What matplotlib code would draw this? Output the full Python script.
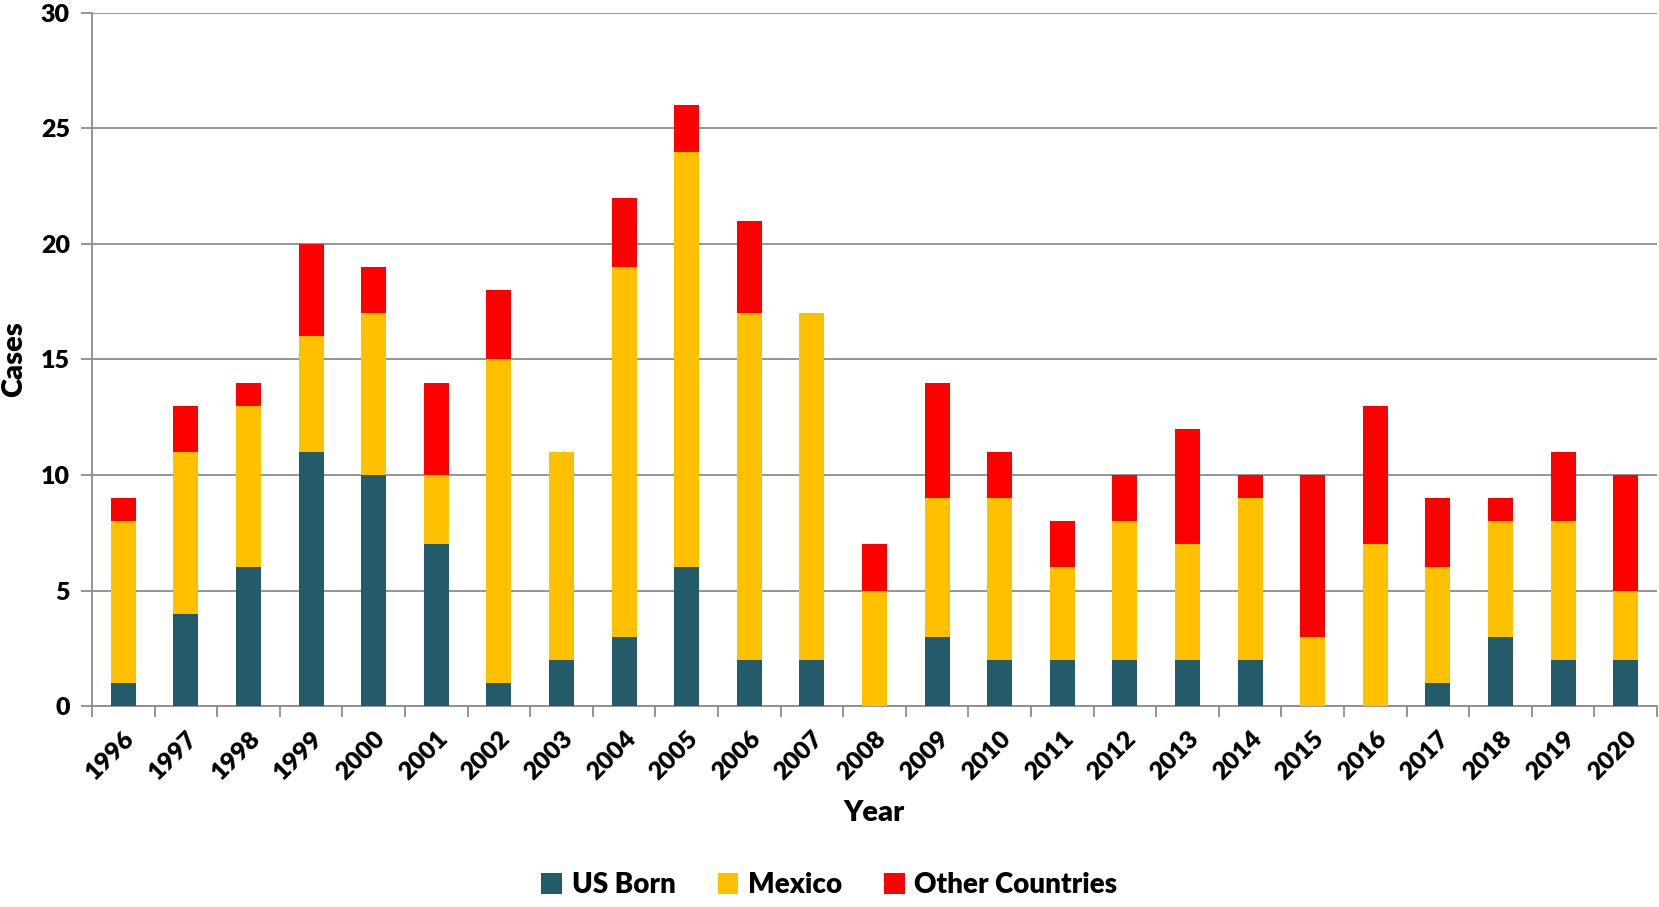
import matplotlib.pyplot as plt
import numpy as np

plt.rcParams['font.family'] = ['Lato', 'DejaVu Sans']

years = [str(y) for y in range(1996, 2021)]
us_born = [1, 4, 6, 11, 10, 7, 1, 2, 3, 6, 2, 2, 0, 3, 2, 2, 2, 2, 2, 0, 0, 1, 3, 2, 2]
mexico = [7, 7, 7, 5, 7, 3, 14, 9, 16, 18, 15, 15, 5, 6, 7, 4, 6, 5, 7, 3, 7, 5, 5, 6, 3]
other = [1, 2, 1, 4, 2, 4, 3, 0, 3, 2, 4, 0, 2, 5, 2, 2, 2, 5, 1, 7, 6, 3, 1, 3, 5]

colors = ['#235B6A', '#FFC000', '#FF0000']
labels = ['US Born', 'Mexico', 'Other Countries']

fig = plt.figure(figsize=(16.59, 9.07), dpi=100)
ax = fig.add_axes([0.0555, 0.2216, 0.9433, 0.7641])

x = np.arange(len(years))
us = np.array(us_born)
mx = np.array(mexico)
ot = np.array(other)
w = 0.4
ax.bar(x, us, w, color=colors[0], label=labels[0], zorder=3)
ax.bar(x, mx, w, bottom=us, color=colors[1], label=labels[1], zorder=3)
ax.bar(x, ot, w, bottom=us + mx, color=colors[2], label=labels[2], zorder=3)

ax.set_xlim(-0.5, len(years) - 0.5)
ax.set_ylim(0, 30)
ax.set_yticks(range(0, 31, 5))
ax.yaxis.grid(True, color='#8c8c8c', linewidth=1.3, zorder=0)
ax.tick_params(axis='y', length=8, color='#8c8c8c', width=1.3, labelsize=18, pad=8)

ax.set_xticks(x)
ax.set_xticklabels(years, rotation=45, ha='right', rotation_mode='anchor', fontsize=18, fontweight='heavy')
ax.tick_params(axis='x', length=0, pad=15)
ax.set_xticks(np.arange(-0.5, len(years)), minor=True)
ax.tick_params(axis='x', which='minor', length=8, color='#8c8c8c', width=1.3)
for t in ax.get_yticklabels():
    t.set_fontweight('heavy')

for s in ['top', 'right']:
    ax.spines[s].set_visible(False)
for s in ['left', 'bottom']:
    ax.spines[s].set_color('#8c8c8c')
    ax.spines[s].set_linewidth(1.3)

ax.set_xlabel('Year', fontsize=21, fontweight='heavy', labelpad=12)
ax.set_ylabel('Cases', fontsize=21, fontweight='heavy', labelpad=10)

fig.legend(loc='lower center', bbox_to_anchor=(0.5, -0.018), ncol=3, frameon=False,
           prop={'size': 20, 'weight': 'heavy'}, handlelength=0.75, handleheight=0.75,
           handletextpad=0.35, columnspacing=1.5)

fig.savefig('out.png', dpi=100)
